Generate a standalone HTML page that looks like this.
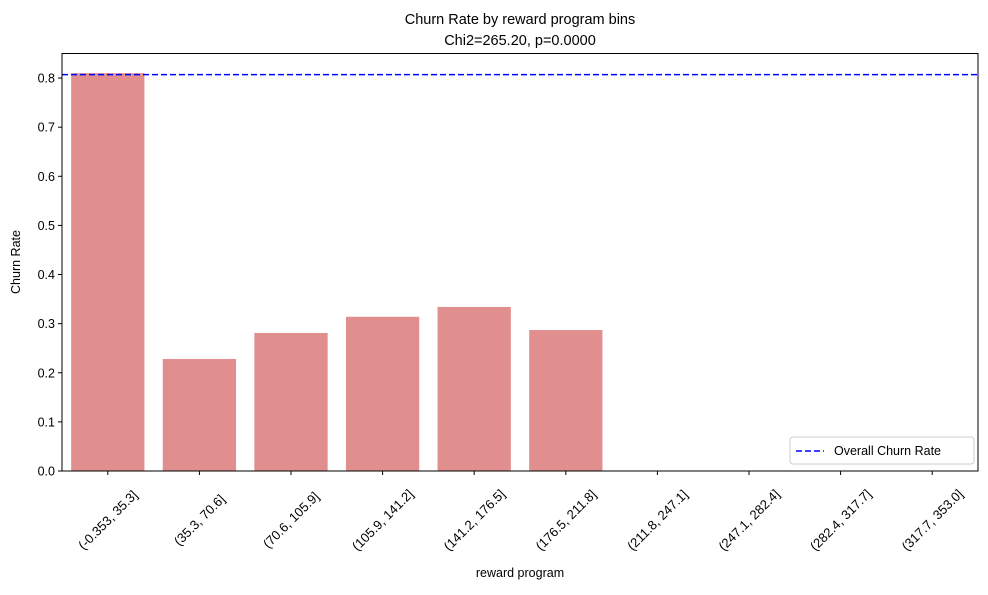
<!DOCTYPE html>
<html><head><meta charset="utf-8"><style>
body{margin:0;background:#fff;}
svg text{font-family:"Liberation Sans","DejaVu Sans",sans-serif;fill:#000;}
</style></head><body>
<svg id="chart" width="988" height="590" xmlns="http://www.w3.org/2000/svg">
<text x="520" y="24" font-size="14.5" text-anchor="middle">Churn Rate by reward program bins</text>
<text x="520" y="45" font-size="14.5" text-anchor="middle">Chi2=265.20, p=0.0000</text>
<g id="bars"></g>
<g id="yticks"></g>
<g id="xticks"></g>
<line id="overall" stroke="#0000ff" stroke-width="1.6" stroke-dasharray="6,3"/>
<rect x="62" y="53.5" width="916" height="417.5" fill="none" stroke="#000" stroke-width="1"/>
<text transform="translate(20,262) rotate(-90)" font-size="12.5" text-anchor="middle">Churn Rate</text>
<text x="520" y="577" font-size="12.5" text-anchor="middle">reward program</text>
<g>
<rect x="790" y="437" width="184" height="27" rx="3" fill="#fff" stroke="#ccc"/>
<line x1="796" y1="451" x2="824" y2="451" stroke="#0000ff" stroke-width="1.6" stroke-dasharray="6,3"/>
<text x="834" y="455" font-size="12.5">Overall Churn Rate</text>
</g>
</svg>
<script>
const categories=["(-0.353, 35.3]","(35.3, 70.6]","(70.6, 105.9]","(105.9, 141.2]","(141.2, 176.5]","(176.5, 211.8]","(211.8, 247.1]","(247.1, 282.4]","(282.4, 317.7]","(317.7, 353.0]"];
const churnRates=[0.810,0.228,0.281,0.314,0.334,0.287,0,0,0,0];
const overallRate=[0.807];
const yTicks=[0,0.1,0.2,0.3,0.4,0.5,0.6,0.7,0.8];
const NS="http://www.w3.org/2000/svg";
const L=62,R=978,B=471,T=53.5,yMax=0.85;
const y=v=>B-v/yMax*(B-T);
const step=(R-L)/categories.length;
const x=i=>L+step*(i+0.5);
const bars=document.getElementById('bars'),yt=document.getElementById('yticks'),xt=document.getElementById('xticks');
function mk(t,a){const e=document.createElementNS(NS,t);for(const k in a)e.setAttribute(k,a[k]);return e;}
churnRates.forEach((v,i)=>{const r=mk('rect',{x:x(i)-step*0.4,y:y(v),width:step*0.8,height:B-y(v),fill:'#e18e8f'});


bars.appendChild(r);});
yTicks.forEach(v=>{const g=mk('g',{});


g.appendChild(mk('line',{x1:L-4,x2:L,y1:y(v),y2:y(v),stroke:'#000'}));
const t=mk('text',{x:L-7,y:y(v)+4.5,'font-size':12.5,'text-anchor':'end'});t.textContent=v.toFixed(1);g.appendChild(t);yt.appendChild(g);});
categories.forEach((c,i)=>{const g=mk('g',{});


g.appendChild(mk('line',{x1:x(i),x2:x(i),y1:B,y2:B+4,stroke:'#000'}));
const t=mk('text',{'font-size':13,'text-anchor':'middle','dominant-baseline':'central',transform:`translate(${x(i)},${B+49}) rotate(-45)`});t.textContent=c;g.appendChild(t);xt.appendChild(g);});
const ol=document.getElementById('overall');
ol.setAttribute('x1',L);ol.setAttribute('x2',R);ol.setAttribute('y1',y(overallRate[0]));ol.setAttribute('y2',y(overallRate[0]));
</script>
</body></html>
